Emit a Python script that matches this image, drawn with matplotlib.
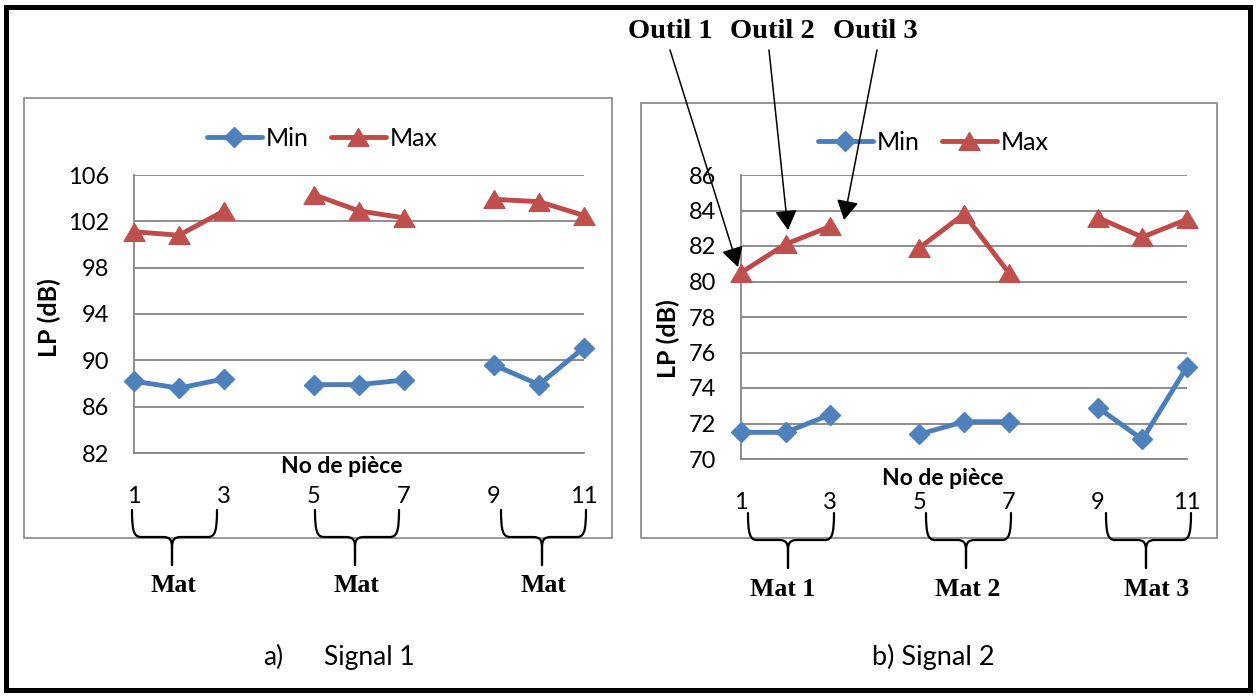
import numpy as np
import matplotlib
matplotlib.use("Agg")
import matplotlib.pyplot as plt
from matplotlib.path import Path
from matplotlib.patches import PathPatch, Rectangle, FancyArrowPatch
from matplotlib.lines import Line2D

# ---- data ----
pieces = [1, 2, 3, 4, 5, 6, 7, 8, 9, 10, 11]
xtick_vals = [1, 3, 5, 7, 9, 11]
xtick_labels = ["1", "3", "5", "7", "9", "11"]

sig1_min = [88.2, 87.6, 88.4, np.nan, 87.9, 87.9, 88.3, np.nan, 89.6, 87.9, 91.1]
sig1_max = [101.1, 100.8, 102.9, np.nan, 104.3, 102.9, 102.3, np.nan, 103.9, 103.7, 102.5]
sig1_yticks = [82, 86, 90, 94, 98, 102, 106]

sig2_min = [71.5, 71.5, 72.5, np.nan, 71.4, 72.1, 72.1, np.nan, 72.9, 71.1, 75.2]
sig2_max = [80.5, 82.1, 83.1, np.nan, 81.9, 83.8, 80.5, np.nan, 83.6, 82.5, 83.5]
sig2_yticks = [70, 72, 74, 76, 78, 80, 82, 84, 86]

mat_labels_a = ["Mat", "Mat", "Mat"]
mat_labels_b = ["Mat 1", "Mat 2", "Mat 3"]
outil_labels = ["Outil 1", "Outil 2", "Outil 3"]
captions = [("a)", "Signal 1"), ("b) Signal 2",)]

# ---- styling ----
W, H = 1256, 696
SANS = "Lato"
SERIF = "Liberation Serif"
BLUE_LINE, BLUE_MK = "#4A7EBB", "#4F81BD"
RED_LINE, RED_MK = "#BE4B48", "#C0504D"
GRID = "#868686"

tri = Path([(-1, -0.85), (1, -0.85), (0, 0.85), (-1, -0.85)],
           [Path.MOVETO, Path.LINETO, Path.LINETO, Path.CLOSEPOLY])

fig = plt.figure(figsize=(W / 100, H / 100), dpi=100)
fig.patch.set_facecolor("white")


def fx(x):
    return x / W


def fy(y):
    return 1 - y / H


def px_axes(x0, x1, ytop, ybot):
    return fig.add_axes([fx(x0), fy(ybot), (x1 - x0) / W, (ybot - ytop) / H])


def make_panel(ax, vmin, vmax, yticks, ylab_xy, xlab_xy, pad_x):
    ax.plot(pieces, vmin, color=BLUE_LINE, lw=3.5, marker="D", ms=10.5,
            mfc=BLUE_MK, mec=BLUE_MK, clip_on=False, zorder=3,
            solid_capstyle="round", solid_joinstyle="round")
    ax.plot(pieces, vmax, color=RED_LINE, lw=3.5, marker=tri, ms=15,
            mfc=RED_MK, mec=RED_MK, clip_on=False, zorder=3,
            solid_capstyle="round", solid_joinstyle="round")
    ax.set_xlim(1, 11)
    ax.set_ylim(yticks[0], yticks[-1])
    ax.set_yticks(yticks)
    ax.set_xticks(xtick_vals)
    ax.set_xticklabels(xtick_labels)
    ax.grid(axis="y", color=GRID, lw=1.3)
    ax.set_axisbelow(True)
    for s in ["top", "right"]:
        ax.spines[s].set_visible(False)
    for s in ["left", "bottom"]:
        ax.spines[s].set_color(GRID)
        ax.spines[s].set_linewidth(1.3)
    ax.tick_params(axis="y", length=0, pad=18, labelsize=17)
    ax.tick_params(axis="x", length=0, pad=pad_x, labelsize=17)
    for lab in ax.get_xticklabels() + ax.get_yticklabels():
        lab.set_fontfamily(SANS)
    ax.set_ylabel("LP (dB)", fontsize=18, fontweight="bold", family=SANS)
    ax.yaxis.set_label_coords(*ylab_xy)
    ax.yaxis.label.set_va("center")
    ax.set_xlabel("No de pièce", fontsize=16.5, fontweight="bold", family=SANS)
    ax.xaxis.set_label_coords(*xlab_xy)
    ax.xaxis.label.set_va("center")
    handles = [
        Line2D([], [], color=BLUE_LINE, lw=3.5, marker="D", ms=10.5, mfc=BLUE_MK,
               mec=BLUE_MK, solid_capstyle="round"),
        Line2D([], [], color=RED_LINE, lw=3.5, marker=tri, ms=15, mfc=RED_MK,
               mec=RED_MK, solid_capstyle="round"),
    ]
    return handles


def brace(x0, x1, xt, ytop, ybot, ytip, r=9):
    for xa, sgn in ((x0, 1), (x1, -1)):
        verts = [(xa, ytop), (xa, ybot - 6), (xa + sgn * 2, ybot), (xa + sgn * r, ybot),
                 (xt - sgn * r, ybot),
                 (xt - sgn * 2, ybot), (xt, ybot + 3), (xt, ybot + r + 2),
                 (xt, ytip)]
        codes = [Path.MOVETO, Path.CURVE4, Path.CURVE4, Path.CURVE4, Path.LINETO,
                 Path.CURVE4, Path.CURVE4, Path.CURVE4, Path.LINETO]
        verts = [(fx(a), fy(b)) for a, b in verts]
        fig.add_artist(PathPatch(Path(verts, codes), fill=False, lw=1.6,
                                 ec="black", transform=fig.transFigure,
                                 capstyle="round", joinstyle="round"))


# ---- outer frame and panel frames ----
fig.add_artist(Rectangle((fx(5.5), fy(690)), fx(1249.5) - fx(5.5), fy(7) - fy(690),
                         transform=fig.transFigure, fill=False, ec="black", lw=3.6))
fig.add_artist(Rectangle((fx(24), fy(538)), fx(612) - fx(24), fy(98) - fy(538),
                         transform=fig.transFigure, fill=False, ec=GRID, lw=1.2))
fig.add_artist(Rectangle((fx(641), fy(538)), fx(1217) - fx(641), fy(103) - fy(538),
                         transform=fig.transFigure, fill=False, ec=GRID, lw=1.2))

# ---- panel a ----
ax1 = px_axes(134, 584, 175, 453)
h1 = make_panel(ax1, sig1_min, sig1_max, sig1_yticks,
                (-0.189, 0.486), (0.462, -0.050), 24)
ax1.legend(h1, ["Min", "Max"], loc="center", bbox_to_anchor=(fx(322), fy(138)),
           bbox_transform=fig.transFigure, ncol=2, frameon=False, numpoints=1,
           handlelength=2.2, handletextpad=0.15, columnspacing=0.9,
           prop={"family": SANS, "size": 18})

# ---- panel b ----
ax2 = px_axes(741, 1187, 175, 459)
h2 = make_panel(ax2, sig2_min, sig2_max, sig2_yticks,
                (-0.164, 0.423), (0.453, -0.067), 23.5)
ax2.legend(h2, ["Min", "Max"], loc="center", bbox_to_anchor=(fx(933), fy(142)),
           bbox_transform=fig.transFigure, ncol=2, frameon=False, numpoints=1,
           handlelength=2.2, handletextpad=0.15, columnspacing=0.9,
           prop={"family": SANS, "size": 18})

# ---- braces and material labels ----
braces_a = [(132, 217, 172), (315, 399, 355), (501, 586, 542)]
braces_b = [(748, 834, 788), (926, 1011, 966), (1106, 1191, 1146)]
for (x0, x1, xt), lab in zip(braces_a, mat_labels_a):
    brace(x0, x1, xt, 510, 537, 565)
    fig.text(fx(xt + 1), fy(585), lab, ha="center", va="center", family=SERIF,
             fontweight="bold", fontsize=18.5)
mat_b_x = [783, 968, 1157]
for (x0, x1, xt), lab, lx in zip(braces_b, mat_labels_b, mat_b_x):
    brace(x0, x1, xt, 513, 540, 568)
    fig.text(fx(lx), fy(590), lab, ha="center", va="center", family=SERIF,
             fontweight="bold", fontsize=18.5)

# ---- Outil annotations (arrows to the Max points of panel b) ----
outil_x = [670, 772, 875]
arrow_start = [(670, 50), (769, 50), (877, 50)]
arrow_end = [(738, 267), (788, 230), (844, 220)]
for lab, tx, (sx, sy), (ex, ey) in zip(outil_labels, outil_x, arrow_start, arrow_end):
    fig.text(fx(tx), fy(32), lab, ha="center", va="center", family=SERIF,
             fontweight="bold", fontsize=20.5)
    fig.add_artist(FancyArrowPatch((fx(sx), fy(sy)), (fx(ex), fy(ey)),
                                   transform=fig.transFigure,
                                   arrowstyle="-|>,head_length=0.8,head_width=0.45",
                                   mutation_scale=15, lw=1.1, color="black",
                                   shrinkA=0, shrinkB=0))

# ---- captions ----
fig.text(fx(263), fy(657), captions[0][0], ha="left", va="center", family=SANS, fontsize=19)
fig.text(fx(324), fy(657), captions[0][1], ha="left", va="center", family=SANS, fontsize=19)
fig.text(fx(933), fy(657), captions[1][0], ha="center", va="center", family=SANS, fontsize=19.5)

plt.savefig("out.png", dpi=100, facecolor="white")
